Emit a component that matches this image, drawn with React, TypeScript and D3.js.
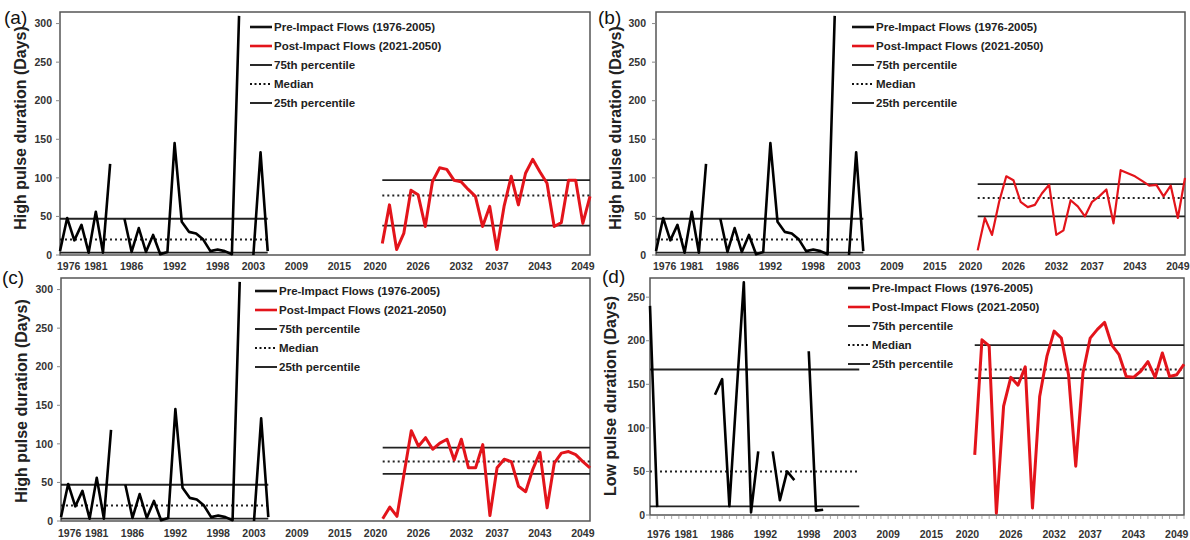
import React from 'react';
import * as d3 from 'd3';

const preYears = [1976,1977,1978,1979,1980,1981,1982,1983,1984,1985,1986,1987,1988,1989,1990,1991,1992,1993,1994,1995,1996,1997,1998,1999,2000,2001,2002,2003,2004,2005];
const postYears = [2021,2022,2023,2024,2025,2026,2027,2028,2029,2030,2031,2032,2033,2034,2035,2036,2037,2038,2039,2040,2041,2042,2043,2044,2045,2046,2047,2048,2049,2050];

const preHigh: (number | null)[] = [5,48,19,39,3,56,3,118,null,47,4,35,4,26,1,4,145,43,30,28,20,5,7,5,1,310,null,0,133,5];
const postHighA: (number | null)[] = [15,65,7,28,84,78,37,95,113,111,97,95,85,76,37,63,7,63,102,65,106,124,108,93,37,42,97,97,41,76];
const postHighB: (number | null)[] = [6,48,26,69,102,97,69,62,65,80,91,26,32,71,63,50,69,76,85,41,110,106,102,96,90,91,76,90,48,100];
const postHighC: (number | null)[] = [3,18,6,62,117,97,108,93,101,106,79,106,69,69,99,7,69,80,77,45,38,67,89,17,75,88,90,86,77,69];
const preLow: (number | null)[] = [240,9,null,null,null,null,null,null,null,138,156,10,140,267,3,73,null,73,17,50,40,null,188,5,6,null,null,null,null,null];
const postLowD: (number | null)[] = [69,201,194,2,125,158,149,170,8,136,182,211,203,161,56,163,203,213,221,195,184,159,158,165,176,158,186,159,161,173];

// [75th, median, 25th]
const preHighStats = [47, 20, 3];
const postStatsA = [97, 77, 38];
const postStatsB = [92, 74, 50];
const postStatsC = [95, 77, 61];
const preLowStats = [167, 50, 10];
const postStatsD = [195, 167, 157];

const xTickYears = [1976,1981,1986,1992,1998,2003,2009,2015,2020,2026,2032,2037,2043,2049];
const highTicks = [0,50,100,150,200,250,300];
const lowTicks = [0,50,100,150,200,250];
const legendLabels = ['Pre-Impact Flows (1976-2005)', 'Post-Impact Flows (2021-2050)', '75th percentile', 'Median', '25th percentile'];

const FONT = '"Liberation Sans", Arial, sans-serif';
const RED = '#e3141b';

type PanelProps = {
  label: string; labelX: number; labelY: number;
  title: string; titleX: number; titleY: number;
  left: number; right: number; top: number; bottom: number; yMax: number;
  ticks: number[]; tickLabelX: number; xLabelY: number;
  pre: (number | null)[]; post: (number | null)[];
  preStats: number[]; postStats: number[];
  legendX: number; legendY: number; redWidth: number; minorTicks: boolean;
};

function Panel(p: PanelProps) {
  const x = d3.scaleLinear().domain([1976, 2050]).range([p.left, p.right]);
  const y = d3.scaleLinear().domain([0, p.yMax]).range([p.bottom, p.top]);
  const line = d3.line<[number, number | null]>()
    .defined(d => d[1] != null)
    .x(d => x(d[0]))
    .y(d => y(d[1] as number));
  const preData = preYears.map((yr, i) => [yr, p.pre[i]] as [number, number | null]);
  const postData = postYears.map((yr, i) => [yr, p.post[i]] as [number, number | null]);
  const statStyles = [
    { dash: undefined, w: 1.8 },
    { dash: '2,3', w: 2 },
    { dash: undefined, w: 1.8 },
  ];
  const minor = p.minorTicks ? d3.range(1976, 2051) : [];
  return (
    <g>
      <text x={p.labelX} y={p.labelY} fontSize={19} fontFamily={FONT} fill="#111">{p.label}</text>
      <text transform={`translate(${p.titleX},${p.titleY}) rotate(-90)`} textAnchor="middle" dominantBaseline="middle"
        fontSize={16} fontWeight="bold" fontFamily={FONT} fill="#222">{p.title}</text>
      <rect x={p.left} y={p.top} width={p.right - p.left} height={p.bottom - p.top} fill="white" stroke="#555" strokeWidth={1.5} />
      {p.ticks.map(t => (
        <g key={t}>
          <line x1={p.left - 4} x2={p.left} y1={y(t)} y2={y(t)} stroke="#888" strokeWidth={1} />
          <text x={p.tickLabelX} y={y(t)} dy="0.35em" textAnchor="end" fontSize={10.5} fontWeight="bold" fontFamily={FONT} fill="#333">{t}</text>
        </g>
      ))}
      {minor.map(yr => (
        <line key={yr} x1={x(yr)} x2={x(yr)} y1={p.bottom + 1} y2={p.bottom + 4} stroke="#aaa" strokeWidth={1} />
      ))}
      {xTickYears.map((yr, i) => (
        <text key={yr} x={i === 0 ? x(yr) - 3 : x(yr)} y={p.xLabelY} textAnchor={i === 0 ? 'start' : 'middle'}
          fontSize={10.5} fontWeight="bold" fontFamily={FONT} fill="#333">{yr}</text>
      ))}
      {p.preStats.map((v, i) => (
        <line key={'pre' + i} x1={x(1976)} x2={x(2005)} y1={y(v)} y2={y(v)} stroke="#222" strokeWidth={statStyles[i].w} strokeDasharray={statStyles[i].dash} />
      ))}
      {p.postStats.map((v, i) => (
        <line key={'post' + i} x1={x(2021)} x2={x(2050)} y1={y(v)} y2={y(v)} stroke="#222" strokeWidth={statStyles[i].w} strokeDasharray={statStyles[i].dash} />
      ))}
      <path d={line(preData) || ''} fill="none" stroke="#000" strokeWidth={2.6} strokeLinejoin="round" />
      <path d={line(postData) || ''} fill="none" stroke={RED} strokeWidth={p.redWidth} strokeLinejoin="round" />
      {legendLabels.map((lab, i) => {
        const ly = p.legendY + i * 19;
        const stroke = i === 1 ? RED : '#111';
        const w = i < 2 ? 2.6 : 1.8;
        return (
          <g key={lab}>
            <line x1={p.legendX} x2={p.legendX + 22} y1={ly} y2={ly} stroke={stroke} strokeWidth={i === 3 ? 2 : w} strokeDasharray={i === 3 ? '2,2.5' : undefined} />
            <text x={p.legendX + 24} y={ly} dy="0.35em" fontSize={11.5} fontWeight="bold" fontFamily={FONT} fill="#222">{lab}</text>
          </g>
        );
      })}
    </g>
  );
}

export default function App() {
  return (
    <svg width={1190} height={540} style={{ position: 'absolute', left: 0, top: 0, background: 'white' }}>
      <rect x={0} y={0} width={1190} height={540} fill="white" />
      <Panel label="(a)" labelX={4} labelY={24} title="High pulse duration (Days)" titleX={22} titleY={128}
        left={60} right={590} top={12} bottom={255} yMax={315} ticks={highTicks} tickLabelX={52} xLabelY={270}
        pre={preHigh} post={postHighA} preStats={preHighStats} postStats={postStatsA}
        legendX={250} legendY={27} redWidth={3} minorTicks={false} />
      <Panel label="(b)" labelX={598} labelY={24} title="High pulse duration (Days)" titleX={617} titleY={128}
        left={656} right={1185} top={12} bottom={255} yMax={315} ticks={highTicks} tickLabelX={646} xLabelY={270}
        pre={preHigh} post={postHighB} preStats={preHighStats} postStats={postStatsB}
        legendX={852} legendY={27} redWidth={2.2} minorTicks={false} />
      <Panel label="(c)" labelX={2} labelY={284} title="High pulse duration (Days)" titleX={23} titleY={401}
        left={61} right={590} top={278} bottom={521} yMax={315} ticks={highTicks} tickLabelX={53} xLabelY={537}
        pre={preHigh} post={postHighC} preStats={preHighStats} postStats={postStatsC}
        legendX={255} legendY={291} redWidth={3} minorTicks={false} />
      <Panel label="(d)" labelX={602} labelY={283} title="Low pulse duration (Days)" titleX={612} titleY={396}
        left={650} right={1184} top={278} bottom={515} yMax={272} ticks={lowTicks} tickLabelX={645} xLabelY={538}
        pre={preLow} post={postLowD} preStats={preLowStats} postStats={postStatsD}
        legendX={848} legendY={288} redWidth={3} minorTicks={true} />
    </svg>
  );
}
